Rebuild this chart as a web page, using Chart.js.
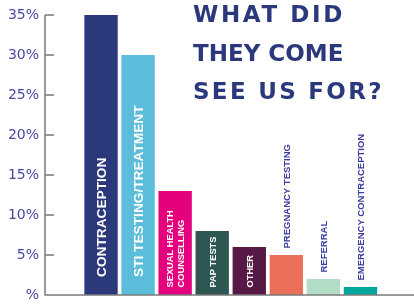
<!DOCTYPE html>
<html><head><meta charset="utf-8">
<script src="https://cdn.jsdelivr.net/npm/chart.js@4"></script>
<style>
html,body{margin:0;padding:0;background:#fff;}
#wrap{position:relative;width:414px;height:304px;overflow:hidden;}
#title{position:absolute;left:193px;top:-5px;font-family:"DejaVu Sans";font-weight:bold;font-size:23px;line-height:38.5px;color:#2b387c;white-space:nowrap;}
#title span{display:block;}
canvas{position:absolute;left:0;top:0;}
</style></head><body>
<div id="wrap"><canvas id="c" width="414" height="304"></canvas><div id="title"><span style="letter-spacing:2.6px">WHAT DID</span><span style="letter-spacing:0px">THEY COME</span><span style="letter-spacing:2.3px">SEE US FOR?</span></div></div>
<script>
const categories = ["CONTRACEPTION", "STI TESTING/TREATMENT", ["SEXUAL HEALTH", "COUNSELLING"], "PAP TESTS", "OTHER", "PREGNANCY TESTING", "REFERRAL", "EMERGENCY CONTRACEPTION"];
const values = [35, 30, 13, 8, 6, 5, 2, 1];
const barColors = ["#2b387c", "#5bbdd9", "#e5007e", "#2e5653", "#561845", "#ea7059", "#b2ddc6", "#00a79b"];
const yTickValues = [0, 5, 10, 15, 20, 25, 30, 35];
const yTickLabels = ["%", "5%", "10%", "15%", "20%", "25%", "30%", "35%"];

const AXIS_X = 45;
const axisPlugin = {
  id: 'axisLines',
  afterDraw(chart) {
    const ctx = chart.ctx, y = chart.scales.y;
    const y0 = y.getPixelForValue(0);
    const yTop = y.getPixelForValue(yTickValues[yTickValues.length - 1]);
    ctx.save();
    ctx.strokeStyle = '#7a7a7a';
    ctx.lineWidth = 1.5;
    ctx.beginPath();
    ctx.moveTo(AXIS_X, yTop);
    ctx.lineTo(AXIS_X, y0);
    ctx.lineTo(chart.width, y0);
    for (const v of yTickValues) {
      if (v === 0) continue;
      const py = y.getPixelForValue(v);
      ctx.moveTo(AXIS_X, py);
      ctx.lineTo(AXIS_X + 9, py);
    }
    ctx.stroke();
    ctx.restore();
  }
};

const labelPlugin = {
  id: 'barLabels',
  afterDatasetsDraw(chart) {
    const ctx = chart.ctx;
    const meta = chart.getDatasetMeta(0);
    meta.data.forEach((bar, i) => {
      const v = values[i];
      const lines = [].concat(categories[i]);
      let size, color, start;
      if (v >= 20) { size = 13.7; color = '#ffffff'; start = bar.base - 18; }
      else if (v >= 6) { size = 9.3; color = '#ffffff'; start = bar.base - 7.5; }
      else { size = 9.5; color = '#3c3ca0'; start = bar.y - 6.5; }
      ctx.save();
      ctx.translate(bar.x, start);
      ctx.rotate(-Math.PI / 2);
      ctx.font = 'bold ' + size + 'px "Liberation Sans"';
      ctx.fillStyle = color;
      ctx.textAlign = 'left';
      ctx.textBaseline = 'alphabetic';
      const lh = size * 1.215;
      lines.forEach((t, j) => {
        const off = (j - (lines.length - 1) / 2) * lh + size * 0.716 / 2;
        ctx.fillText(t, 0, off);
      });
      ctx.restore();
    });
  }
};

new Chart(document.getElementById('c'), {
  type: 'bar',
  data: {
    labels: categories,
    datasets: [{ data: values, backgroundColor: barColors, borderWidth: 0, categoryPercentage: 1, barPercentage: 0.9 }]
  },
  options: {
    responsive: false,
    animation: false,
    layout: { padding: { left: 0, right: 35, top: 15, bottom: 9 } },
    plugins: { legend: { display: false }, tooltip: { enabled: false }, title: { display: false } },
    scales: {
      x: { display: false },
      y: {
        min: 0, max: 35,
        afterBuildTicks(scale) { scale.ticks = yTickValues.map(v => ({ value: v })); },
        afterFit(scale) { scale.width = 82.5; scale.paddingTop = 0; scale.paddingBottom = 0; },
        border: { display: false },
        grid: { display: false, drawTicks: false },
        ticks: {
          padding: 43.5,
          color: '#4848a6',
          font: { family: '"DejaVu Sans"', size: 14 },
          callback: (v) => yTickLabels[yTickValues.indexOf(v)]
        }
      }
    }
  },
  plugins: [axisPlugin, labelPlugin]
});
</script>
</body></html>
